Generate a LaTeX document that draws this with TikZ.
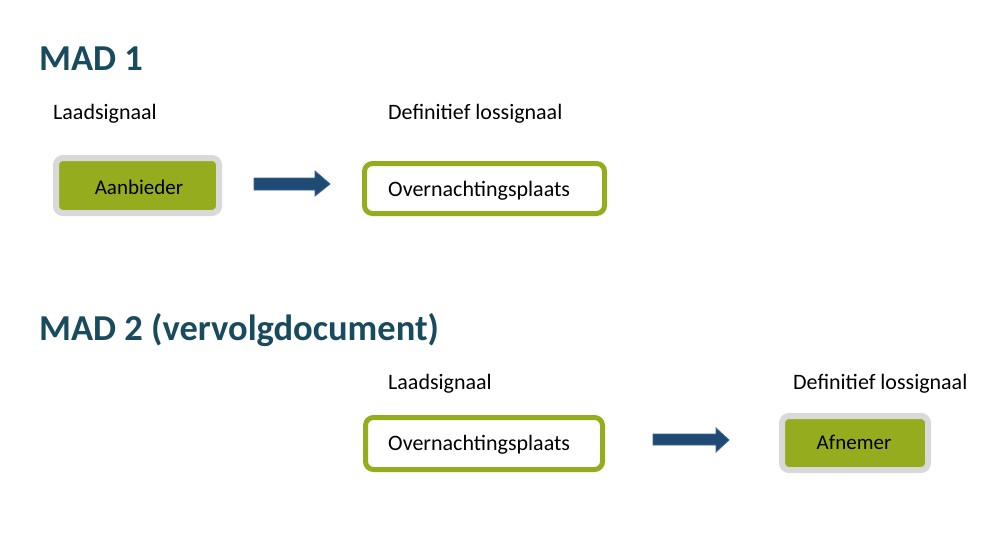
\documentclass[tikz,border=0pt]{standalone}
\usepackage{fontspec}
\setmainfont{Carlito}
\usetikzlibrary{shapes.arrows}
\definecolor{madgreen}{HTML}{95AC1E}
\definecolor{madgray}{HTML}{D9D9D9}
\definecolor{madteal}{HTML}{194B5E}
\definecolor{madblue}{HTML}{1F4A73}
\definecolor{madblueline}{HTML}{3A6496}
\begin{document}
\begin{tikzpicture}[x=1pt,y=-1pt,
  title/.style={anchor=west,inner sep=0pt,font=\fontsize{36.5}{40}\selectfont\bfseries,text=madteal},
  lbl/.style={anchor=west,inner sep=0pt,font=\fontsize{22}{26}\selectfont},
  actor/.style={draw=madgray,line width=6pt,fill=madgreen,rounded corners=7pt},
  place/.style={draw=madgreen,line width=5pt,fill=white,rounded corners=8pt},
  blockarrow/.style={fill=madblue,draw=madblueline,line width=0.8pt}
]
\useasboundingbox (0,0) rectangle (1000,543);
\fill[white] (0,0) rectangle (1000,543);

% MAD 1
\node[title] (t1) at (39,59) {MAD 1};
\node[lbl] (l1) at (53,114) {Laadsignaal};
\node[lbl] (d1) at (388,114) {Definitief lossignaal};
\draw[actor] (56,158) rectangle (219,213);
\node[font=\fontsize{21}{24}\selectfont] (a1) at (139,187) {Aanbieder};
\draw[place] (364.5,163.5) rectangle (604.5,213.5);
\node[lbl] (o1) at (388,191) {Overnachtingsplaats};
\draw[blockarrow] (254,178) -- (315,178) -- (315,171) -- (330,184) -- (315,196) -- (315,190) -- (254,190) -- cycle;

% MAD 2
\node[title] (t2) at (39,330) {MAD 2 (vervolgdocument)};
\node[lbl] (l2) at (388,384) {Laadsignaal};
\node[lbl] (d2) at (793,384) {Definitief lossignaal};
\draw[place] (365.5,417.5) rectangle (602.5,469.5);
\node[lbl] (o2) at (388,445) {Overnachtingsplaats};
\draw[blockarrow] (653,434) -- (716,434) -- (716,428) -- (729,440) -- (716,452) -- (716,445) -- (653,445) -- cycle;
\draw[actor] (782,416) rectangle (928,470);
\node[font=\fontsize{21}{24}\selectfont] (a2) at (854,442) {Afnemer};
\end{tikzpicture}
\end{document}
